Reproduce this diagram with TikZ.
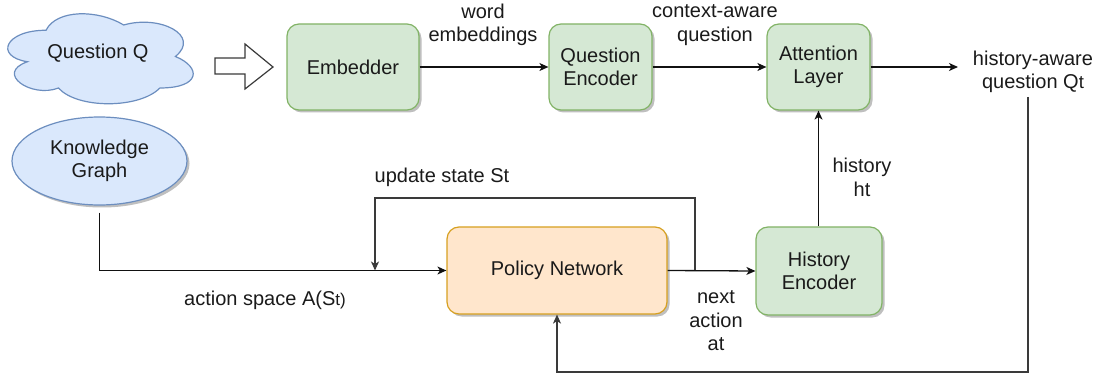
\documentclass[tikz,border=0pt]{standalone}
\usepackage{fontspec}
\setmainfont{Liberation Sans}
\usetikzlibrary{arrows.meta,shadows,shapes.geometric}
\definecolor{gfill}{HTML}{D5E8D4}
\definecolor{gstroke}{HTML}{82B366}
\definecolor{ofill}{HTML}{FFE6CC}
\definecolor{ostroke}{HTML}{D7A020}
\definecolor{bfill}{HTML}{DAE8FC}
\definecolor{bstroke}{HTML}{6C8EBF}
\definecolor{lncol}{HTML}{111111}
\definecolor{fbcol}{HTML}{3A3A3A}
\definecolor{txtcol}{HTML}{1A1A1A}
\tikzset{
  shad/.style={drop shadow={shadow xshift=2.5pt,shadow yshift=-2.5pt,opacity=0.25,fill=black}},
  gbox/.style={draw=gstroke, fill=gfill, rounded corners=12pt, line width=1.2pt,
    align=center, inner sep=0pt, shad},
  obox/.style={draw=ostroke, fill=ofill, rounded corners=12pt, line width=1.2pt,
    align=center, inner sep=0pt, shad},
  lbl/.style={align=center, inner sep=1pt},
  arr/.style={draw=lncol, line width=1.3pt, -{Stealth[length=9pt,width=8pt,inset=2.5pt]}},
  fb/.style={draw=fbcol, line width=1.3pt, -{Stealth[length=9pt,width=8pt,inset=2.5pt]}},
}
\newcommand{\smallt}[1]{{\fontsize{17}{19}\selectfont #1}}
\newcommand{\midt}[1]{{\fontsize{18.5}{22}\selectfont #1}}
\begin{document}
\begin{tikzpicture}[x=1pt,y=-1pt,font=\fontsize{20}{23.5}\selectfont,text=txtcol]
\useasboundingbox (0,0) rectangle (1109,374);

% cloud
\path[draw=bstroke, fill=bfill, line width=1.2pt]
 (46.05,30.25) .. controls (4.65,30.25) and (-5.7,56.5) .. (27.4,61.75)
 .. controls (-5.7,73.3) and (31.56,98.5) .. (58.47,88)
 .. controls (77.1,109) and (139.2,109) .. (159.9,88)
 .. controls (201.3,88) and (201.3,67) .. (175.4,56.5)
 .. controls (201.3,35.5) and (159.9,14.5) .. (123.7,25)
 .. controls (97.8,9.25) and (56.4,9.25) .. (46.05,30.25) -- cycle;
\node[lbl] (q) at (98,53) {Question Q};

% knowledge graph
\node[ellipse, draw=bstroke, fill=bfill, line width=1.2pt, minimum width=175pt,
  minimum height=88pt, inner sep=0pt, align=center, shad] (kg) at (99.5,161) {Knowledge\\Graph};

% block arrow
\path[draw=fbcol, fill=white, line width=1.2pt, line join=miter]
 (215,58) -- (245,58) -- (245,44) -- (273,67) -- (245,89) -- (245,74) -- (215,74) -- cycle;

% boxes
\node[gbox, minimum width=132pt, minimum height=86pt] (emb) at (353,67) {Embedder};
\node[gbox, minimum width=103pt, minimum height=86pt] (qe) at (600.5,67) {Question\\Encoder};
\node[gbox, minimum width=103pt, minimum height=86pt] (att) at (818.5,67) {Attention\\Layer};
\node[obox, minimum width=220pt, minimum height=87pt] (pol) at (557,270.5) {Policy Network};
\node[gbox, minimum width=126pt, minimum height=88pt] (hist) at (819,271) {History\\Encoder};

\node[lbl] (qt) at (1033,72) {history-aware\\question Q\midt{t}};

% labels
\node[lbl] (lwe) at (483,25) {word\\embeddings};
\node[lbl] (lca) at (715,25) {context-aware\\question};
\node[lbl] (lh) at (862,177.5) {history\\ht};
\node[lbl] (lus) at (442,177) {update state St};
\node[lbl] (las) at (265,300) {action space A(S\smallt{t)}};
\node[lbl] (lna) at (716,321) {next\\action\\at};

% coordinates
\coordinate (qtin) at (958,67);
\coordinate (qtout) at (1028,97);
\coordinate (loopbot) at (1028,372);
\coordinate (br) at (695,270.5);
\coordinate (upl) at (375,198);
\coordinate (ins) at (375,270.5);

% connectors
\draw[arr] (emb.east) -- (qe.west);
\draw[arr] (qe.east) -- (att.west);
\draw[arr] (att.east) -- (qtin);
\draw[arr] (hist.north -| att.south) -- (att.south);
\draw[arr] (pol.east) -- (hist.west);
\draw[arr] ([yshift=-7pt]kg.south) |- (pol.west);
\draw[fb] (br) |- (upl) -- (ins);
\draw[fb] (qtout) -- (loopbot) -| (pol.south);
\end{tikzpicture}
\end{document}
